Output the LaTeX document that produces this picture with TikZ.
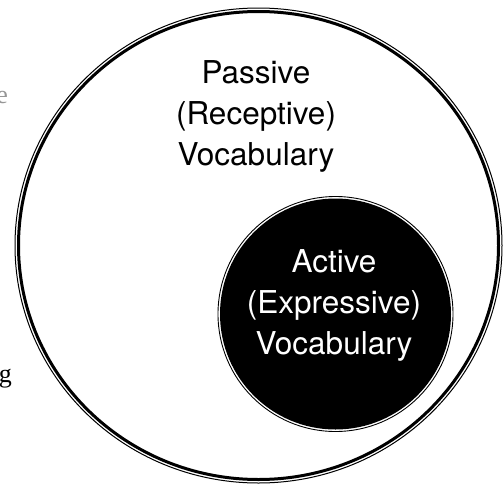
\documentclass[tikz,border=0pt]{standalone}
\usepackage{fontspec}
\setmainfont{TeX Gyre Heros}
\newfontfamily\bodyfont{Liberation Serif}
\usetikzlibrary{shapes.geometric}
\tikzstyle{vocab ring}=[draw, ellipse, inner sep=0pt, minimum width=#1]
\tikzstyle{vocab label}=[align=center, font=\fontsize{31.5}{41}\selectfont]
\tikzstyle{body frag}=[anchor=base east, inner sep=0pt, font=\bodyfont\fontsize{26}{30}\selectfont]
\definecolor{ink}{RGB}{0,0,0}
\definecolor{faded}{RGB}{150,150,150}

\begin{document}
\begin{tikzpicture}[x=1pt, y=-1pt]
		\useasboundingbox (0,0) rectangle (504,485);
		\clip (0,0) rectangle (504,485);
		\node [vocab ring=487pt, minimum height=475pt, line width=1pt] (P) at (258.5,245.5) {};
		\node [vocab ring=480pt, minimum height=468pt, line width=3pt] (Pin) at (P) {};
		\node [vocab ring=235pt, minimum height=235pt, line width=0.9pt, fill=white] (A) at (335.5,314) {};
		\node [circle, inner sep=0pt, minimum size=231pt, fill=ink] (Ain) at (A) {};
		
		\node [vocab label] (passive) at (256,116.5) {Passive\\(Receptive)\\Vocabulary};
		\node [vocab label, text=white] (active) at (334,305) {Active\\(Expressive)\\Vocabulary};
		
		\node [body frag, text=faded] (fragE) at (8,103) {e};
		\node [body frag] (fragG) at (12,382) {g};
	\end{tikzpicture}
\end{document}
